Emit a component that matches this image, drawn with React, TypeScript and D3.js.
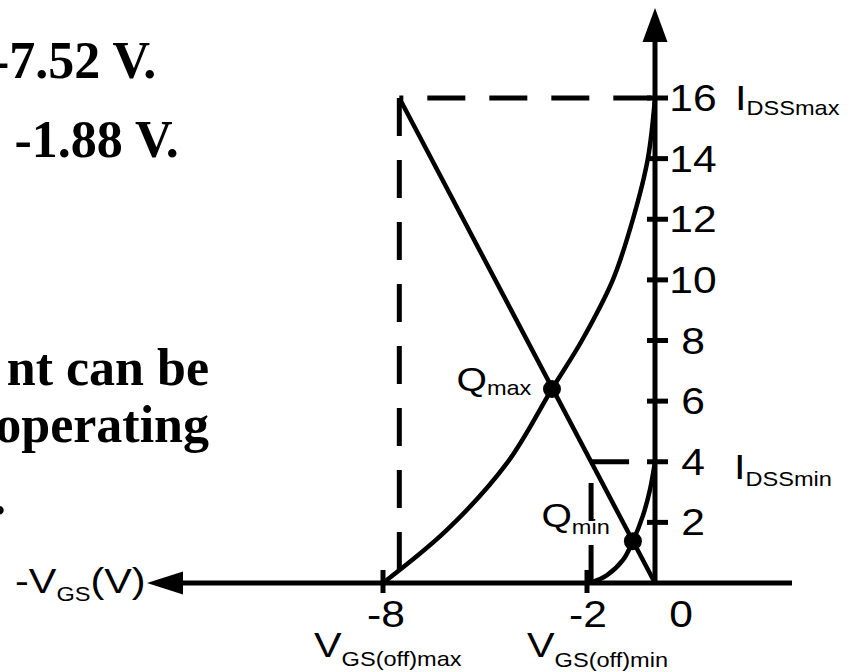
import React from "react";
import * as d3 from "d3";

const W = 851;
const H = 672;

// JFET transfer characteristics: V_GS in volts, I_D in mA
const maxCurveVgs = [-8, -6.12, -4.35, -3.03, -2.15, -1.24, -0.65, -0.21, 0];
const maxCurveId = [0, 1.75, 3.96, 6.4, 8.0, 10.0, 12.0, 14.0, 16];
const minCurveVgs = [-1.91, -1.41, -0.94, -0.65, -0.35, -0.15, 0];
const minCurveId = [0, 0.26, 0.76, 1.38, 2.24, 3.07, 4];

// Self-bias load line
const biasVgs = [0, -7.52];
const biasId = [0, 16];

// Reference levels
const idssMax = 16;
const idssMin = 4;
const vgsAtIdssMax = -7.52;
const vgsAtIdssMin = -1.88;

// Operating points
const qNames = ["max", "min"];
const qVgs = [-3.03, -0.65];
const qId = [6.4, 1.38];

// Axis ticks
const yTicks = [2, 4, 6, 8, 10, 12, 14, 16];
const xTicks = [-8, -2];
const xTickLabels = ["-8", "-2", "0"];
const xTickLabelValues = [-8, -2, 0];

// Side notes
const notes = ["-7.52 V.", "-1.88 V.", "nt can be", "operating", "."];

const x = d3.scaleLinear().domain([-8, 0]).range([383, 655]);
const y = d3.scaleLinear().domain([0, 16]).range([583, 98]);

const SANS = "'Liberation Sans', Arial, sans-serif";
const SERIF = "'Liberation Serif', 'Times New Roman', serif";
const SX = 1.15;
const MAIN = 36;
const SUB = 20.5;

type Part = { t: string; sub?: boolean };

function Label({ x0, y0, parts, anchor = "start", size = MAIN, subDy = 7 }: { x0: number; y0: number; parts: Part[]; anchor?: string; size?: number; subDy?: number }) {
  let prevSub = false;
  return (
    <text
      transform={`translate(${x0},${y0}) scale(${SX},1)`}
      fontFamily={SANS}
      fontSize={size}
      textAnchor={anchor}
      fill="#000"
    >
      {parts.map((p, i) => {
        const s = !!p.sub;
        const dy = s === prevSub ? 0 : s ? subDy : -subDy;
        prevSub = s;
        return (
          <tspan key={i} dy={dy} fontSize={s ? SUB : size}>
            {p.t}
          </tspan>
        );
      })}
    </text>
  );
}

export default function App() {
  const curveGen = d3
    .line<[number, number]>()
    .x((d) => x(d[0]))
    .y((d) => y(d[1]))
    .curve(d3.curveCatmullRom.alpha(0.5));
  const straight = d3
    .line<[number, number]>()
    .x((d) => x(d[0]))
    .y((d) => y(d[1]));

  const maxPts = maxCurveVgs.map((v, i) => [v, maxCurveId[i]] as [number, number]);
  const minPts = minCurveVgs.map((v, i) => [v, minCurveId[i]] as [number, number]);
  const biasPts = biasVgs.map((v, i) => [v, biasId[i]] as [number, number]);

  const x0 = x(0);
  const yAxisY = y(0);
  const sw = 4.5;

  const qLabelPos = [
    { dx: -95.5, dy: 2, sdy: 4 },
    { dx: -91.5, dy: -14, sdy: 7 },
  ];

  return (
    <svg
      width={W}
      height={H}
      viewBox={`0 0 ${W} ${H}`}
      style={{ position: "absolute", left: 0, top: 0, background: "#fff" }}
    >
      {/* side notes */}
      <g fontFamily={SERIF} fontWeight="bold" fontSize={52} fill="#000">
        <text x={-8} y={78}>{notes[0]}</text>
        <text x={14.5} y={157}>{notes[1]}</text>
        <text x={209} y={385} textAnchor="end">{notes[2]}</text>
        <text x={209} y={442} textAnchor="end">{notes[3]}</text>
        <text x={-7} y={514}>{notes[4]}</text>
      </g>

      {/* dashed reference lines */}
      <g stroke="#000" strokeWidth={5} fill="none" strokeDasharray="38 24">
        <path d={straight([[vgsAtIdssMax, idssMax], [0, idssMax]]) || ""} strokeDashoffset={34} />
        <path d={straight([[vgsAtIdssMax, idssMax], [vgsAtIdssMax, 0]]) || ""} />
        <path d={straight([[vgsAtIdssMin, idssMin], [0, idssMin]]) || ""} />
        <path d={straight([[vgsAtIdssMin, 0], [vgsAtIdssMin, idssMin]]) || ""} />
      </g>

      {/* axes */}
      <g stroke="#000" strokeWidth={5} fill="none">
        <line x1={183} y1={yAxisY} x2={792} y2={yAxisY} />
        <line x1={x0} y1={yAxisY + 2} x2={x0} y2={42} />
        {yTicks.map((t) => (
          <line key={t} x1={x0 - 8} x2={x0 + 13} y1={y(t)} y2={y(t)} />
        ))}
        {xTicks.map((t) => (
          <line key={t} x1={x(t)} x2={x(t)} y1={yAxisY - 13} y2={yAxisY + 10} />
        ))}
      </g>
      <path d={`M${x0},8 L${x0 - 12.5},42 L${x0 + 12.5},42 Z`} fill="#000" />
      <path d={`M147,${yAxisY} L183,${yAxisY - 11.5} L183,${yAxisY + 11.5} Z`} fill="#000" />

      {/* curves */}
      <g stroke="#000" strokeWidth={sw} fill="none">
        <path d={curveGen(maxPts) || ""} />
        <path d={curveGen(minPts) || ""} />
        <path d={straight(biasPts) || ""} />
      </g>

      {/* operating points */}
      {qNames.map((n, i) => (
        <g key={n}>
          <circle cx={x(qVgs[i])} cy={y(qId[i])} r={9} fill="#000" />
          <Label
            x0={x(qVgs[i]) + qLabelPos[i].dx}
            y0={y(qId[i]) + qLabelPos[i].dy}
            size={34}
            subDy={qLabelPos[i].sdy}
            parts={[{ t: "Q" }, { t: n, sub: true }]}
          />
        </g>
      ))}

      {/* y tick labels */}
      {yTicks.map((t) => (
        <Label key={t} x0={693} y0={y(t) + 13} anchor="middle" size={37} parts={[{ t: String(t) }]} />
      ))}

      {/* x tick labels */}
      {xTickLabels.map((s, i) => {
        const v = xTickLabelValues[i];
        const off = v === 0 ? 26 : v === -8 ? 3 : 1;
        return <Label key={s} x0={x(v) + off} y0={627} anchor="middle" size={37} parts={[{ t: s }]} />;
      })}

      {/* level labels */}
      <Label x0={735} y0={y(idssMax) + 12} subDy={5} parts={[{ t: "I" }, { t: "DSSmax", sub: true }]} />
      <Label x0={734} y0={y(idssMin) + 17} subDy={7} parts={[{ t: "I" }, { t: "DSSmin", sub: true }]} />

      {/* cutoff labels */}
      <Label x0={314} y0={657} subDy={9} parts={[{ t: "V" }, { t: "GS(off)max", sub: true }]} />
      <Label x0={527} y0={657} subDy={10} parts={[{ t: "V" }, { t: "GS(off)min", sub: true }]} />

      {/* axis title */}
      <Label x0={15} y0={593} subDy={8} parts={[{ t: "-V" }, { t: "GS", sub: true }, { t: "(V)" }]} />
    </svg>
  );
}
